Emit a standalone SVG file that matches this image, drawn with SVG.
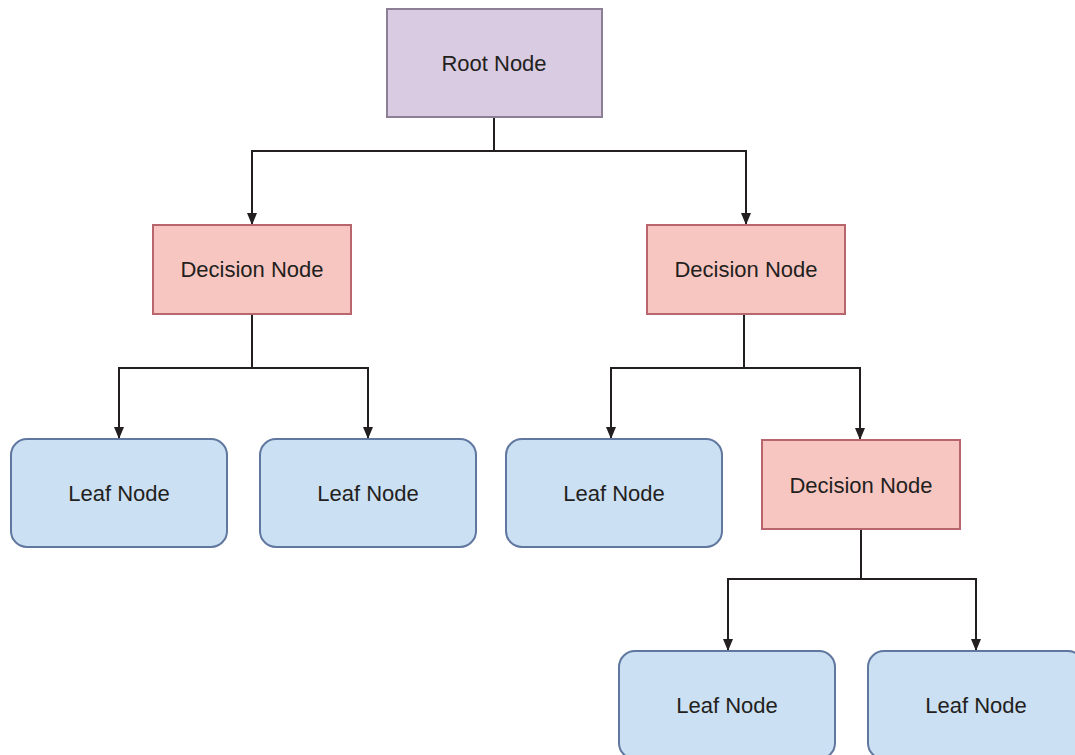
<svg xmlns="http://www.w3.org/2000/svg" width="1075" height="755" viewBox="0 0 1075 755">
<style>
text{font-family:"Liberation Sans",Arial,sans-serif;font-size:22px;fill:#231f20;text-anchor:middle;dominant-baseline:central}
.root{fill:#d9cbe1;stroke:#8c7f95;stroke-width:2}
.dec{fill:#f8c6c1;stroke:#b8656e;stroke-width:2}
.leaf{fill:#cce0f3;stroke:#60779f;stroke-width:2}
.edge{fill:none;stroke:#231f20;stroke-width:2}
</style>
<defs>
<marker id="arr" viewBox="0 0 12 10" refX="12" refY="5" markerWidth="6" markerHeight="5" orient="auto" markerUnits="strokeWidth">
<path d="M0,0 L12,5 L0,10 Z" fill="#231f20"/>
</marker>
</defs>
<g id="connectors">
<path class="edge" d="M494,117 V151 H252 V225" marker-end="url(#arr)"/>
<path class="edge" d="M494,151 H746 V225" marker-end="url(#arr)"/>
<path class="edge" d="M252,314 V368 H119 V439" marker-end="url(#arr)"/>
<path class="edge" d="M252,368 H368 V439" marker-end="url(#arr)"/>
<path class="edge" d="M744,314 V368 H611 V439" marker-end="url(#arr)"/>
<path class="edge" d="M744,368 H860 V440" marker-end="url(#arr)"/>
<path class="edge" d="M861,529 V579 H728 V651" marker-end="url(#arr)"/>
<path class="edge" d="M861,579 H976 V651" marker-end="url(#arr)"/>
</g>
<g id="root"><rect class="root" x="387" y="9" width="215" height="108"/><text x="494" y="63">Root Node</text></g>
<g id="decision1"><rect class="dec" x="153" y="225" width="198" height="89"/><text x="252" y="269">Decision Node</text></g>
<g id="decision2"><rect class="dec" x="647" y="225" width="198" height="89"/><text x="746" y="269">Decision Node</text></g>
<g id="leaf1"><rect class="leaf" x="11" y="439" width="216" height="108" rx="16"/><text x="119" y="493">Leaf Node</text></g>
<g id="leaf2"><rect class="leaf" x="260" y="439" width="216" height="108" rx="16"/><text x="368" y="493">Leaf Node</text></g>
<g id="leaf3"><rect class="leaf" x="506" y="439" width="216" height="108" rx="16"/><text x="614" y="493">Leaf Node</text></g>
<g id="decision3"><rect class="dec" x="762" y="440" width="198" height="89"/><text x="861" y="485">Decision Node</text></g>
<g id="leaf4"><rect class="leaf" x="619" y="651" width="216" height="108" rx="16"/><text x="727" y="705">Leaf Node</text></g>
<g id="leaf5"><rect class="leaf" x="868" y="651" width="216" height="108" rx="16"/><text x="976" y="705">Leaf Node</text></g>
</svg>
